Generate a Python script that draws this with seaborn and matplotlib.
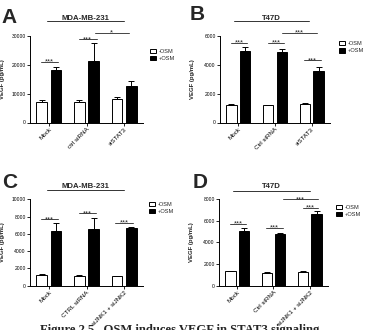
import matplotlib
matplotlib.use('Agg')
import matplotlib.pyplot as plt
import seaborn as sns
import pandas as pd
from matplotlib.patches import Patch
from matplotlib.transforms import blended_transform_factory as btf

sns.set_theme(style='ticks')
plt.rcParams['font.family'] = ['Liberation Sans', 'DejaVu Sans']

# ---------------- data ----------------
conds = ['-OSM', '+OSM']

groups_A = ['Mock', 'ctrl siRNA', 'siSTAT3']
neg_A = [7200, 7200, 8300]
neg_err_A = [550, 550, 400]
pos_A = [18300, 21400, 12600]
pos_err_A = [1100, 6000, 1650]
yticks_A = [0, 10000, 20000, 30000]

groups_B = ['Mock', 'Ctrl siRNA', 'siSTAT3']
neg_B = [1220, 1190, 1270]
neg_err_B = [90, 50, 60]
pos_B = [4990, 4880, 3590]
pos_err_B = [270, 270, 300]
yticks_B = [0, 2000, 4000, 6000]

groups_C = ['Mock', 'CTRL siRNA', 'siJNK1 + siJNK2']
neg_C = [1250, 1120, 1080]
neg_err_C = [110, 50, 10]
pos_C = [6300, 6600, 6700]
pos_err_C = [900, 1200, 50]
yticks_C = [0, 2000, 4000, 6000, 8000, 10000]

groups_D = ['Mock', 'Ctrl siRNA', 'siJNK1 + siJNK2']
neg_D = [1310, 1180, 1250]
neg_err_D = [60, 60, 80]
pos_D = [5080, 4800, 6600]
pos_err_D = [300, 40, 300]
yticks_D = [0, 2000, 4000, 6000, 8000]

# significance brackets: (x from, x to, level, label)
sig_A = [(-0.22, 0.25, 21000, '***'), (0.8, 1.27, 28800, '***'), (1.22, 2.12, 31200, '*')]
sig_B = [(-0.2, 0.25, 5540, '***'), (0.8, 1.25, 5540, '***'), (1.2, 2.15, 6250, '***'),
         (1.8, 2.25, 4320, '***')]
sig_C = [(-0.22, 0.25, 7660, '***'), (0.8, 1.25, 8370, '***'), (1.76, 2.24, 7300, '***')]
sig_D = [(-0.2, 0.25, 5700, '***'), (0.8, 1.25, 5360, '***'), (1.8, 2.23, 7200, '***'),
         (1.25, 2.23, 8000, '***')]

titles = ['MDA-MB-231', 'T47D', 'MDA-MB-231', 'T47D']
letters = ['A', 'B', 'C', 'D']
caption = 'Figure 2.5   OSM induces VEGF in STAT3 signaling'

# ---------------- layout (pixels) ----------------
W, H = 373, 330
fig = plt.figure(figsize=(W / 100, H / 100), dpi=100)


def fx(px):
    return px / W


def fy(py):
    return 1 - py / H


panels = [
    dict(box=(30, 143, 36, 122.5), groups=groups_A, neg=neg_A, nerr=neg_err_A, pos=pos_A,
         perr=pos_err_A, yt=yticks_A, sig=sig_A, letter_xy=(1, 23), title_base=20,
         line_y=21, line_x=(-0.05, 2.0), leg=(150, 48.5), ylab_x=-0.221),
    dict(box=(220, 330, 36.3, 122.5), groups=groups_B, neg=neg_B, nerr=neg_err_B, pos=pos_B,
         perr=pos_err_B, yt=yticks_B, sig=sig_B, letter_xy=(190, 20), title_base=20,
         line_y=21, line_x=(-0.13, 1.92), leg=(339, 41), ylab_x=-0.227),
    dict(box=(30, 143, 199.3, 285.5), groups=groups_C, neg=neg_C, nerr=neg_err_C, pos=pos_C,
         perr=pos_err_C, yt=yticks_C, sig=sig_C, letter_xy=(2, 188), title_base=187.5,
         line_y=190, line_x=(-0.05, 2.0), leg=(149, 201.5), ylab_x=-0.221),
    dict(box=(219, 328, 199.3, 285.5), groups=groups_D, neg=neg_D, nerr=neg_err_D, pos=pos_D,
         perr=pos_err_D, yt=yticks_D, sig=sig_D, letter_xy=(193, 187.5), title_base=188,
         line_y=190.7, line_x=(-0.12, 2.0), leg=(336, 204.5), ylab_x=-0.225),
]

for i, P in enumerate(panels):
    l, r, t, b = P['box']
    ax = fig.add_axes([fx(l), fy(b), (r - l) / W, (b - t) / H])
    df = pd.DataFrame({
        'group': P['groups'] * 2,
        'cond': [conds[0]] * 3 + [conds[1]] * 3,
        'value': P['neg'] + P['pos'],
        'err': P['nerr'] + P['perr'],
    })
    sns.barplot(data=df, x='group', y='value', hue='cond', hue_order=conds,
                palette={'-OSM': 'white', '+OSM': 'black'}, edgecolor='black',
                linewidth=0.7, width=0.75, gap=0.24, errorbar=None, legend=False, ax=ax)
    # error bars (upper only)
    for p in list(ax.patches):
        xc = p.get_x() + p.get_width() / 2
        gi = int(round(xc))
        cond = conds[0] if xc < gi else conds[1]
        row = df[(df['group'] == P['groups'][gi]) & (df['cond'] == cond)].iloc[0]
        ax.errorbar(xc, row['value'], yerr=[[0], [row['err']]], fmt='none', ecolor='black',
                    elinewidth=0.7, capsize=2.4, capthick=0.7, zorder=3)

    ax.set_xlim(-0.5, 2.5)
    ax.set_ylim(0, P['yt'][-1])
    ax.set_yticks(P['yt'], labels=[str(v) for v in P['yt']])
    sns.despine(ax=ax)
    for s in ['left', 'bottom']:
        ax.spines[s].set_color('black')
        ax.spines[s].set_linewidth(0.7)
    ax.tick_params(axis='both', length=2, width=0.6, pad=1, colors='black')
    ax.tick_params(axis='y', labelsize=3.6)
    ax.set_xlabel('')
    ax.set_ylabel('VEGF (pg/mL)', fontsize=4.3, fontweight='bold')
    ax.yaxis.set_label_coords(P['ylab_x'], 0.5)
    ax.set_xticks([0, 1, 2], labels=P['groups'])
    for lab in ax.get_xticklabels():
        lab.set_rotation(45)
        lab.set_ha('right')
        lab.set_rotation_mode('anchor')
        lab.set_fontsize(4.5)

    # significance
    for x0, x1, yv, lab in P['sig']:
        ax.plot([x0, x1], [yv, yv], color='#444444', lw=0.7, clip_on=False)
        ax.annotate(lab, ((x0 + x1) / 2, yv), xytext=(0, -1.3), textcoords='offset points',
                    ha='center', va='baseline', fontsize=5.5, annotation_clip=False)

    # title + line
    tr = btf(ax.transData, fig.transFigure)
    lx0, lx1 = P['line_x']
    ax.plot([lx0, lx1], [fy(P['line_y'])] * 2, transform=tr, color='#333333', lw=0.7,
            clip_on=False)
    fig.text(ax.transData.transform(((lx0 + lx1) / 2, 0))[0] / W, fy(P['title_base']),
             titles[i], ha='center', va='baseline', fontsize=5.6, fontweight='bold')

    # panel letter
    fig.text(fx(P['letter_xy'][0]), fy(P['letter_xy'][1]), letters[i], fontsize=15,
             fontweight='bold', va='baseline', ha='left')

    # legend
    handles = [Patch(facecolor='white', edgecolor='black', lw=0.7, label=conds[0]),
               Patch(facecolor='black', edgecolor='black', lw=0.7, label=conds[1])]
    ax.legend(handles=handles, loc='upper left', bbox_to_anchor=(fx(P['leg'][0]), fy(P['leg'][1])),
              bbox_transform=fig.transFigure, frameon=False, fontsize=4.1, handlelength=1.0,
              handleheight=0.8, handletextpad=0.6, labelspacing=0.35, borderpad=0,
              borderaxespad=0)

fig.text(fx(40), fy(323.5), caption,
         family=['Liberation Serif', 'DejaVu Serif'], fontweight='bold', fontsize=9.1,
         va='top', ha='left')

fig.savefig('out.png', dpi=100)
